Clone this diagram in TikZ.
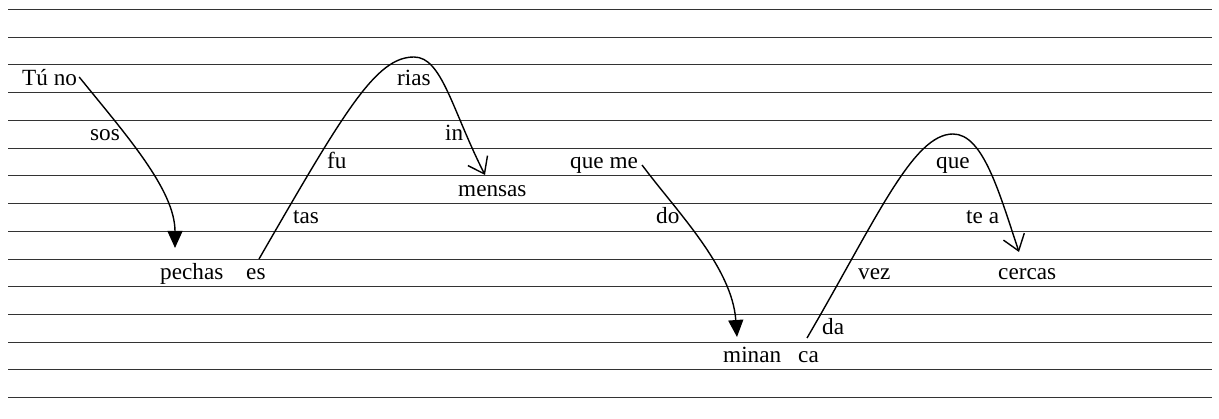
\documentclass[tikz,border=0pt]{standalone}
\usepackage{fontspec}
\setmainfont{Liberation Serif}
\usetikzlibrary{arrows.meta}

\begin{document}
\begin{tikzpicture}[
    x=1pt, y=-1pt, % work in pixels, y downwards
    staff/.style={black!80, line width=1pt}, % ruled lines
    syl/.style={inner sep=0pt, anchor=base west, font=\fontsize{23.2}{28}\selectfont}, % syllables
    jump/.style={line width=1.4pt, -{Triangle[length=17pt, width=15pt]}},
    leap/.style={line width=1.4pt, -{Straight Barb[length=15pt, width=22pt, line width=1.4pt]}}
]

\useasboundingbox (0,0) rectangle (1219,419);

% Ruled lines
\foreach \i in {0,...,14}
    \draw[staff] (8,{9.5+27.73*\i}) -- (1212,{9.5+27.73*\i});

% Syllables
\node[syl] (tuno) at (22,86) {Tú no};
\node[syl] (sos) at (90,141) {sos};
\node[syl] (pechas) at (160,280) {pechas};
\node[syl] (es) at (246,280) {es};
\node[syl] (tas) at (293,224) {tas};
\node[syl] (fu) at (327,169) {fu};
\node[syl] (rias) at (397,86) {rias};
\node[syl] (ins) at (445,141) {in};
\node[syl] (mensas) at (458,197) {mensas};
\node[syl] (queme) at (570,169) {que me};
\node[syl] (do) at (656,224) {do};
\node[syl] (minan) at (723,363) {minan};
\node[syl] (ca) at (798,363) {ca};
\node[syl] (da) at (822,335) {da};
\node[syl] (vez) at (858,280) {vez};
\node[syl] (que) at (936,169) {que};
\node[syl] (tea) at (966,224) {te a};
\node[syl] (cercas) at (998,280) {cercas};

% Tops of the two arcs
\coordinate (topB) at (414,57);
\coordinate (topD) at (953,134);

% Falling melody lines
\draw[jump] ([xshift=2pt,yshift=9pt]tuno.base east)
    .. controls +(47,58) and +(0,-58) .. ([xshift=15pt,yshift=32pt]pechas.base west);
\draw[jump] ([xshift=4pt,yshift=4pt]queme.base east)
    .. controls +(35,47) and +(-5,-70) .. ([xshift=14pt,yshift=26pt]minan.base west);

% Rising and falling arcs
\draw[leap] ([xshift=13pt,yshift=21pt]es.base west)
    .. controls +(86,-149) and +(-38,0) .. (topB)
    .. controls +(28,0) and +(-33,-65) .. ([xshift=27pt,yshift=22pt]mensas.base west);
\draw[leap] ([xshift=9pt,yshift=25pt]ca.base west)
    .. controls +(70,-120) and +(-40,0) .. (topD)
    .. controls +(30,0) and +(-20,-60) .. ([xshift=21pt,yshift=28pt]cercas.base west);

\end{tikzpicture}
\end{document}
